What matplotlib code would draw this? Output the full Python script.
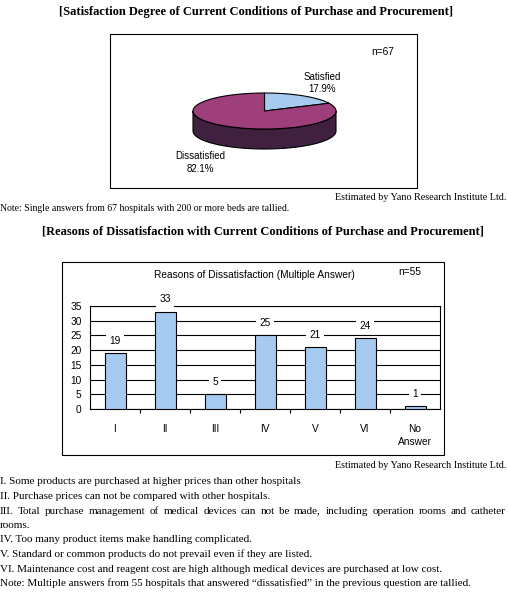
import numpy as np
import matplotlib
matplotlib.use("Agg")
import matplotlib.pyplot as plt
from matplotlib.patches import Polygon, Rectangle

# pie data (hospitals, n=67)
pie_labels = ["Satisfied", "Dissatisfied"]
pie_counts = [12, 55]
pie_colors = ["#a6caf0", "#9e3f7c"]
side_color = "#40203f"

# bar data (multiple answer, n=55)
reasons = ["I", "II", "III", "IV", "V", "VI", "No\nAnswer"]
counts = [19, 33, 5, 25, 21, 24, 1]
bar_color = "#a6caf0"

notes = [
    "I. Some products are purchased at higher prices than other hospitals",
    "II. Purchase prices can not be compared with other hospitals.",
    "III. Total purchase management of medical devices can not be made, including operation rooms and catheter",
    "rooms.",
    "IV. Too many product items make handling complicated.",
    "V. Standard or common products do not prevail even if they are listed.",
    "VI. Maintenance cost and reagent cost are high although medical devices are purchased at low cost.",
    "Note: Multiple answers from 55 hospitals that answered \u201cdissatisfied\u201d in the previous question are tallied.",
]

W, H = 508, 592
SERIF = "Liberation Serif"
SANS = "Liberation Sans"
body_size = 8.0
note_size = 7.0
est_size = 7.3
small_size = 7.3
title_size = 9.0

fig = plt.figure(figsize=(W / 100, H / 100), dpi=100)
ax = fig.add_axes([0, 0, 1, 1])
ax.set_xlim(0, W)
ax.set_ylim(H, 0)
ax.axis("off")


def serif(x, y, s, **kw):
    kw.setdefault("fontsize", body_size)
    ax.text(x, y, s, family=SERIF, va="center", **kw)


def justify(y, s, x0, x1):
    # spread words so the line fills x0..x1
    words = s.split(" ")
    renderer = fig.canvas.get_renderer()
    inv = ax.transData.inverted()
    texts, widths = [], []
    for w in words:
        t = ax.text(0, y, w, family=SERIF, fontsize=body_size, va="center")
        bb = t.get_window_extent(renderer)
        p0 = inv.transform((bb.x0, bb.y0))
        p1 = inv.transform((bb.x1, bb.y0))
        texts.append(t)
        widths.append(p1[0] - p0[0])
    gap = (x1 - x0 - sum(widths)) / (len(words) - 1)
    x = x0
    for t, wd in zip(texts, widths):
        t.set_x(x)
        x += wd + gap


# ---------- top section: pie ----------
ax.text(256, 12, "[Satisfaction Degree of Current Conditions of Purchase and Procurement]",
        family=SERIF, fontsize=title_size, weight="bold", ha="center", va="center")
ax.add_patch(Rectangle((110, 34), 307, 154, fill=False, ec="black", lw=0.8))
ax.text(383, 52, "n=%d" % sum(pie_counts), family=SANS, fontsize=small_size, ha="center", va="center")

cx, cy, rx, ry, depth = 264.5, 111, 71.5, 18, 20


def pt(theta, dy=0):
    return cx + rx * np.cos(theta), cy - ry * np.sin(theta) + dy


# visible side (front half)
th = np.linspace(np.pi, 2 * np.pi, 100)
top = [pt(t) for t in th]
bot = [pt(t, depth) for t in th[::-1]]
ax.add_patch(Polygon(top + bot, closed=True, fc=side_color, ec="black", lw=0.8))

fracs = np.array(pie_counts) / sum(pie_counts)
start = np.pi / 2
for frac, col in zip(fracs, pie_colors):
    end = start - 2 * np.pi * frac
    th = np.linspace(start, end, 120)
    poly = [(cx, cy)] + [pt(t) for t in th]
    ax.add_patch(Polygon(poly, closed=True, fc=col, ec="black", lw=0.8))
    start = end

label_pos = [(322, 83), (200, 162.5)]
for lab, frac, (lx, ly) in zip(pie_labels, fracs, label_pos):
    ax.text(lx, ly, "%s\n%.1f%%" % (lab, frac * 100), family=SANS, fontsize=7.0,
            ha="center", va="center", linespacing=1.3)

serif(506, 197, "Estimated by Yano Research Institute Ltd.", ha="right", fontsize=est_size)
serif(0, 208, "Note: Single answers from %d hospitals with 200 or more beds are tallied." % sum(pie_counts),
      fontsize=note_size)

# ---------- bottom section: bars ----------
ax.text(263, 232, "[Reasons of Dissatisfaction with Current Conditions of Purchase and Procurement]",
        family=SERIF, fontsize=title_size, weight="bold", ha="center", va="center")
ax.add_patch(Rectangle((62, 262), 382, 193, fill=False, ec="black", lw=0.8))
ax.text(254, 275, "Reasons of Dissatisfaction (Multiple Answer)", family=SANS,
        fontsize=small_size, ha="center", va="center")
ax.text(410, 272, "n=55", family=SANS, fontsize=small_size, ha="center", va="center")

bx = fig.add_axes([90 / W, 1 - 409 / H, 350 / W, 103 / H])
x = np.arange(len(reasons))
bx.bar(x, counts, width=0.42, color=bar_color, edgecolor="black", linewidth=0.8, zorder=3)
bx.set_xlim(-0.5, len(reasons) - 0.5)
bx.set_ylim(0, 35)
bx.set_yticks(range(0, 36, 5))
bx.yaxis.grid(True, color="black", linewidth=0.8, zorder=0)
bx.set_axisbelow(True)
bx.set_xticks(x)
bx.set_xticklabels(reasons, family=SANS, fontsize=small_size, linespacing=1.4)
bx.set_xticks(x[:-1] + 0.5, minor=True)
bx.tick_params(axis="x", which="major", length=0, pad=10.5)
bx.tick_params(axis="x", which="minor", length=3, width=0.8, direction="out")
bx.tick_params(axis="y", length=0, pad=6, labelsize=small_size)
for lbl in bx.get_yticklabels():
    lbl.set_family(SANS)
for sp in bx.spines.values():
    sp.set_linewidth(0.8)
for xi, v in zip(x, counts):
    bx.annotate(str(v), (xi, v), xytext=(0, 9), textcoords="offset points",
                ha="center", va="center", family=SANS, fontsize=small_size, zorder=4,
                bbox=dict(fc="white", ec="none", pad=2.5))

serif(506, 466, "Estimated by Yano Research Institute Ltd.", ha="right", fontsize=est_size)
for i, line in enumerate(notes):
    y = 482 + 14.5 * i
    if line.startswith("III."):
        justify(y, line, 0, 506)
    else:
        serif(0, y, line)

fig.savefig("out.png", dpi=100)
